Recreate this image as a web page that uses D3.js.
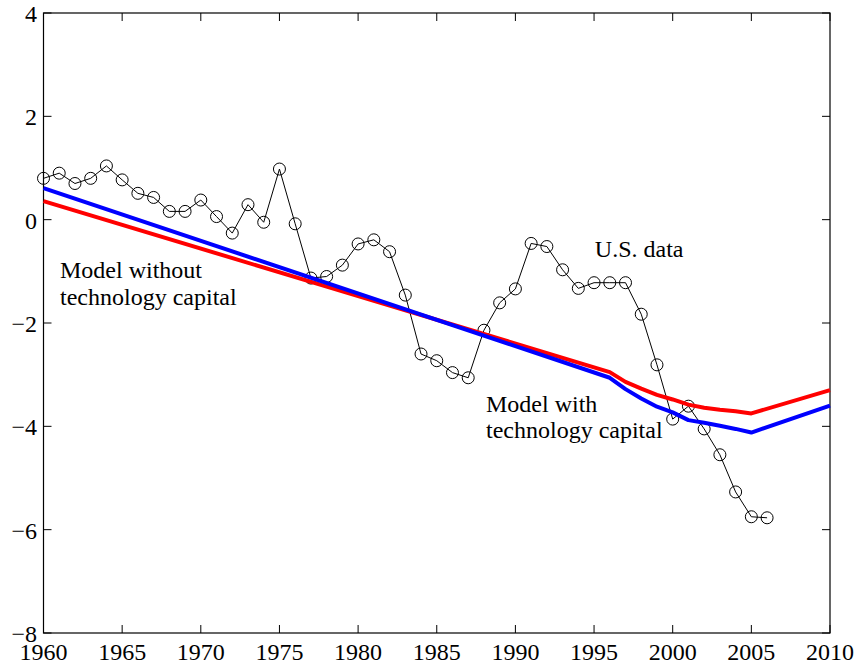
<!DOCTYPE html>
<html>
<head>
<meta charset="utf-8">
<script src="https://cdn.jsdelivr.net/npm/d3@7"></script>
<style>
  html, body { margin: 0; padding: 0; background: #fff; }
  svg { display: block; }
  text { font-family: "Liberation Serif", "Times New Roman", serif; }
</style>
</head>
<body>
<svg id="chart" width="858" height="668"></svg>
<script>
// U.S. data (yearly, 1960-2006)
const dataYears = d3.range(1960, 2007);
const dataValues = [
  0.80, 0.90, 0.70, 0.80, 1.04, 0.77, 0.51, 0.43, 0.16, 0.16,
  0.38, 0.06, -0.26, 0.29, -0.05, 0.98, -0.08, -1.13, -1.10, -0.88,
  -0.47, -0.39, -0.62, -1.46, -2.60, -2.73, -2.96, -3.06, -2.14, -1.61,
  -1.34, -0.46, -0.52, -0.97, -1.33, -1.22, -1.22, -1.22, -1.83, -2.81,
  -3.86, -3.61, -4.05, -4.55, -5.27, -5.75, -5.77
];

// Model without technology capital (red)
const modelNoTechYears = [1960, 1996, 1997, 1998, 1999, 2000, 2001, 2002, 2003, 2004, 2005, 2010];
const modelNoTechValues = [0.36, -2.95, -3.14, -3.27, -3.39, -3.48, -3.58, -3.64, -3.68, -3.71, -3.75, -3.30];

// Model with technology capital (blue)
const modelTechYears = [1960, 1996, 1997, 1998, 1999, 2000, 2001, 2002, 2003, 2004, 2005, 2010];
const modelTechValues = [0.61, -3.06, -3.28, -3.46, -3.62, -3.73, -3.88, -3.93, -3.99, -4.05, -4.12, -3.60];

const xTicks = [1960, 1965, 1970, 1975, 1980, 1985, 1990, 1995, 2000, 2005, 2010];
const yTicks = [-8, -6, -4, -2, 0, 2, 4];

const labels = [
  { lines: ["Model without", "technology capital"], x: 1961.05, y: -1.13 },
  { lines: ["U.S. data"], x: 1995.05, y: -0.72 },
  { lines: ["Model with", "technology capital"], x: 1988.13, y: -3.72 }
];

const svg = d3.select("#chart");
const pLeft = 43.5, pRight = 830, pTop = 13, pBottom = 633;
const x = d3.scaleLinear().domain([1960, 2010]).range([pLeft, pRight]);
const y = d3.scaleLinear().domain([-8, 4]).range([pBottom, pTop]);

const tickLen = 8;
const fs = 24;
const axisG = svg.append("g");

// box
axisG.append("rect")
  .attr("x", pLeft).attr("y", pTop)
  .attr("width", pRight - pLeft).attr("height", pBottom - pTop)
  .attr("fill", "none").attr("stroke", "#000").attr("stroke-width", 1.2);

// x ticks (bottom and top, inward)
xTicks.forEach(t => {
  axisG.append("line").attr("x1", x(t)).attr("x2", x(t))
    .attr("y1", pBottom).attr("y2", pBottom - tickLen).attr("stroke", "#000");
  axisG.append("line").attr("x1", x(t)).attr("x2", x(t))
    .attr("y1", pTop).attr("y2", pTop + tickLen).attr("stroke", "#000");
  axisG.append("text").attr("x", x(t)).attr("y", pBottom + 27)
    .attr("text-anchor", "middle").attr("font-size", fs).text(t);
});

// y ticks (left and right, inward)
yTicks.forEach(t => {
  axisG.append("line").attr("x1", pLeft).attr("x2", pLeft + tickLen)
    .attr("y1", y(t)).attr("y2", y(t)).attr("stroke", "#000");
  axisG.append("line").attr("x1", pRight).attr("x2", pRight - tickLen)
    .attr("y1", y(t)).attr("y2", y(t)).attr("stroke", "#000");
  axisG.append("text").attr("x", pLeft - 6.5).attr("y", y(t) + 9)
    .attr("text-anchor", "end").attr("font-size", fs)
    .text(t < 0 ? "\u2212" + Math.abs(t) : String(t));
});

// U.S. data
const dataPts = dataYears.map((yr, i) => [yr, dataValues[i]]);
const line = d3.line().x(d => x(d[0])).y(d => y(d[1]));
svg.append("path").datum(dataPts).attr("d", line)
  .attr("fill", "none").attr("stroke", "#000").attr("stroke-width", 1);
svg.append("g").selectAll("circle").data(dataPts).join("circle")
  .attr("cx", d => x(d[0])).attr("cy", d => y(d[1])).attr("r", 6)
  .attr("fill", "none").attr("stroke", "#000").attr("stroke-width", 1);

// model lines
const redPts = modelNoTechYears.map((yr, i) => [yr, modelNoTechValues[i]]);
const bluePts = modelTechYears.map((yr, i) => [yr, modelTechValues[i]]);
svg.append("path").datum(redPts).attr("d", line)
  .attr("fill", "none").attr("stroke", "#ff0000").attr("stroke-width", 4)
  .attr("stroke-linejoin", "round");
svg.append("path").datum(bluePts).attr("d", line)
  .attr("fill", "none").attr("stroke", "#0000ff").attr("stroke-width", 4)
  .attr("stroke-linejoin", "round");

// annotations
labels.forEach(l => {
  const t = svg.append("text").attr("x", x(l.x)).attr("y", y(l.y))
    .attr("font-size", fs).attr("fill", "#000");
  l.lines.forEach((s, i) => {
    t.append("tspan").attr("x", x(l.x)).attr("dy", i === 0 ? 0 : 26.5).text(s);
  });
});
</script>
</body>
</html>
